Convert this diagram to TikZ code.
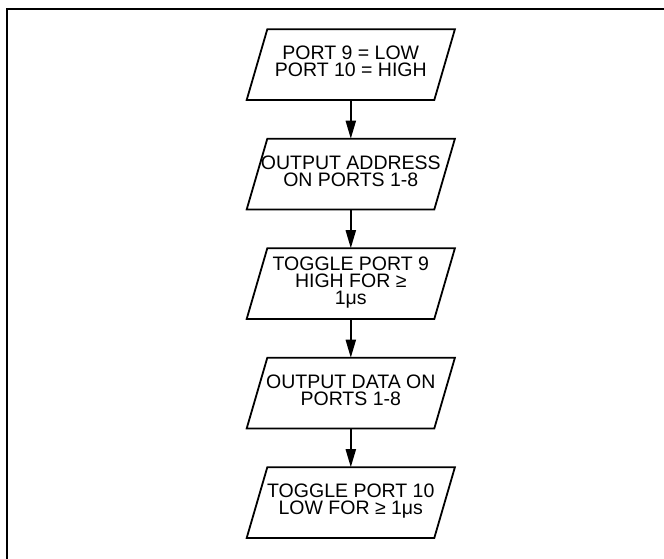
\documentclass[tikz,border=0pt]{standalone}
\usepackage{fontspec}
\setmainfont{Liberation Sans}
\usetikzlibrary{arrows.meta,positioning}

\tikzset{
    stepbox/.style={minimum width=187.6pt, minimum height=70.7pt,
        inner sep=0pt, outer sep=0pt, align=center, text depth=6pt,
        font=\fontsize{19.5}{17}\selectfont},
    boxline/.style={line width=1.8pt, line join=miter},
    flow/.style={line width=2pt, -{Triangle[length=18pt,width=10pt]}}
}

\begin{document}
\begin{tikzpicture}[x=1pt, y=1pt, node distance=38.8pt]
    \useasboundingbox (0,0) rectangle (664,559);

    % Frame (top and left edges only)
    \draw[line width=2pt] (6.7,0) -- (6.7,549.7) -- (664,549.7);

    % Flow steps
    \node[stepbox] (p1) at (350.8,494.4) {PORT 9 = LOW\\PORT 10 = HIGH};
    \node[stepbox, below=of p1] (p2) {OUTPUT ADDRESS\\ON PORTS 1-8};
    \node[stepbox, below=of p2] (p3) {TOGGLE PORT 9\\HIGH FOR ≥\\1μs};
    \node[stepbox, below=of p3] (p4) {OUTPUT DATA ON\\PORTS 1-8};
    \node[stepbox, below=of p4] (p5) {TOGGLE PORT 10\\LOW FOR ≥ 1μs};

    % Parallelogram outlines
    \foreach \n in {p1,p2,p3,p4,p5}
        \draw[boxline] ([xshift=10.3pt]\n.north west) -- ([xshift=10.3pt]\n.north east)
            -- ([xshift=-10.3pt]\n.south east) -- ([xshift=-10.3pt]\n.south west) -- cycle;

    % Arrows
    \draw[flow] (p1) -- (p2);
    \draw[flow] (p2) -- (p3);
    \draw[flow] (p3) -- (p4);
    \draw[flow] (p4) -- (p5);
\end{tikzpicture}
\end{document}
